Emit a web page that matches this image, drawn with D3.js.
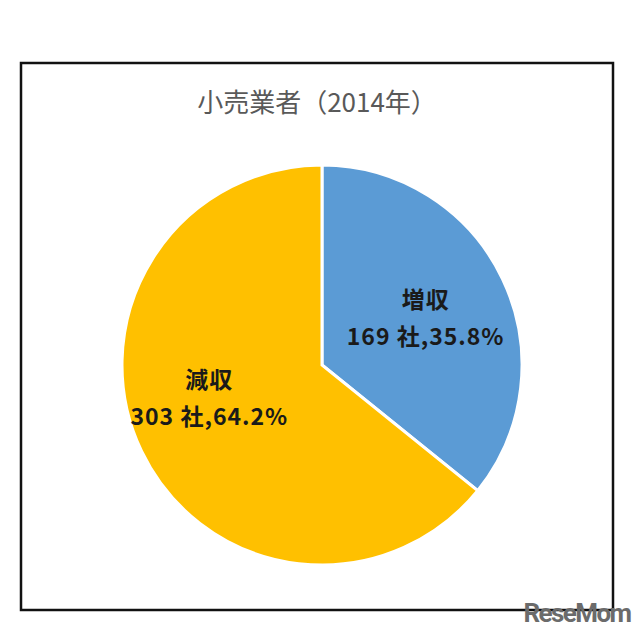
<!DOCTYPE html>
<html>
<head>
<meta charset="utf-8">
<script src="https://cdn.jsdelivr.net/npm/d3@7"></script>
<style>
  body { margin: 0; background: #fff; }
  text { font-family: "Noto Sans CJK JP", "Noto Sans", sans-serif; }
</style>
</head>
<body>
<script>
const categories = ["増収", "減収"],
      counts = [169, 303],
      shares = ["35.8%", "64.2%"],
      colors = ["#5B9BD5", "#FFC000"];

const width = 640, height = 636,
      cx = 322, cy = 365, r = 200,
      // Excel "best fit" label placement, nudged from the centroid
      nudge = [[-1, 3], [-8, -17]];

const svg = d3.select("body")
  .append("svg")
  .attr("width", width)
  .attr("height", height);

// frame
svg.append("rect")
  .attr("x", 21)
  .attr("y", 63)
  .attr("width", 592)
  .attr("height", 547)
  .attr("fill", "#fff")
  .attr("stroke", "#111")
  .attr("stroke-width", 2.5);

svg.append("text")
  .attr("x", 317)
  .attr("y", 112)
  .attr("text-anchor", "middle")
  .attr("fill", "#595959")
  .style("font-size", "26px")
  .text("小売業者（2014年）");

const data = categories.map((c, i) => ({ name: c, count: counts[i], share: shares[i], color: colors[i] }));

const pie = d3.pie()
  .sort(null)
  .value((d) => d.count);

const arc = d3.arc()
  .innerRadius(0)
  .outerRadius(r);

const g = svg.append("g")
  .attr("transform", "translate(" + cx + "," + cy + ")");

const arcs = pie(data);

g.selectAll("path")
  .data(arcs)
  .enter()
  .append("path")
  .attr("d", arc)
  .attr("fill", (d) => d.data.color)
  .attr("stroke", "#fff")
  .attr("stroke-width", 3);

const labelArc = d3.arc()
  .innerRadius(r * 0.58)
  .outerRadius(r * 0.58);

const labels = g.selectAll(".lbl")
  .data(arcs)
  .enter()
  .append("text")
  .attr("class", "lbl")
  .attr("text-anchor", "middle")
  .attr("fill", "#1a1a1a")
  .style("font-size", "23px")
  .style("font-weight", "bold")
  .style("letter-spacing", "1px")
  .attr("transform", (d, i) => {
    const c = labelArc.centroid(d);
    return "translate(" + (c[0] + nudge[i][0]) + "," + (c[1] + nudge[i][1]) + ")";
  });

labels.append("tspan")
  .attr("x", 0)
  .attr("y", -10)
  .text((d) => d.data.name);

labels.append("tspan")
  .attr("x", 0)
  .attr("y", 27)
  .text((d) => d.data.count + " 社," + d.data.share);

// watermark
svg.append("text")
  .attr("x", 577)
  .attr("y", 622)
  .attr("text-anchor", "middle")
  .attr("fill", "#6b6b6b")
  .style("font-family", "Roboto, sans-serif")
  .style("font-size", "26px")
  .style("font-weight", "bold")
  .style("letter-spacing", "-1.6px")
  .text("ReseMom");
</script>
</body>
</html>
